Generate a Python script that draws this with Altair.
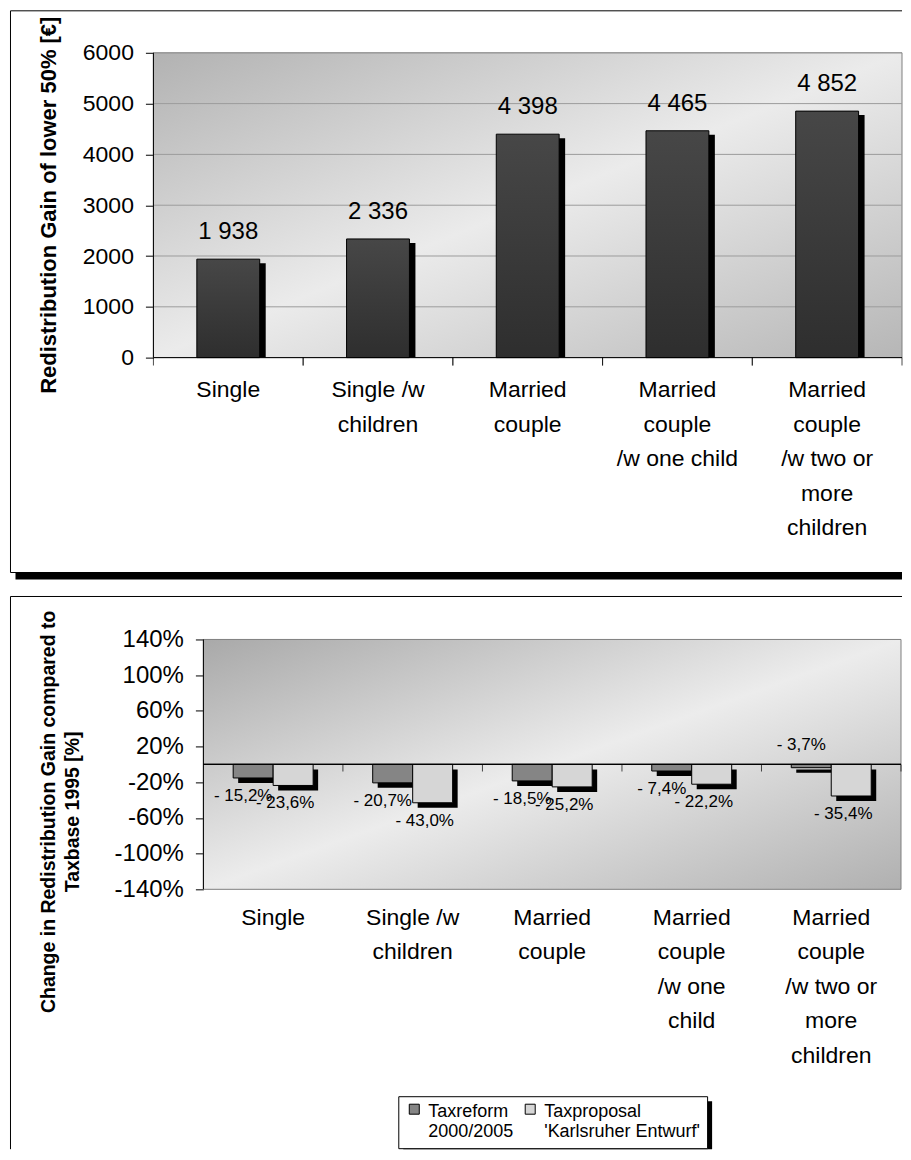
import altair as alt
import pandas as pd

FONT = "Liberation Sans"

# ---------------- data ----------------
cats_top = ["Single", "Single /w|children", "Married|couple",
            "Married|couple|/w one child", "Married|couple|/w two or|more|children"]
gain = [1938, 2336, 4398, 4465, 4852]
y_ticks_top = [0, 1000, 2000, 3000, 4000, 5000, 6000]

cats_bottom = ["Single", "Single /w|children", "Married|couple",
               "Married|couple|/w one|child", "Married|couple|/w two or|more|children"]
series = ["Taxreform|2000/2005", "Taxproposal|'Karlsruher Entwurf'"]
taxreform = [-15.2, -20.7, -18.5, -7.4, -3.7]
taxproposal = [-23.6, -43.0, -25.2, -22.2, -35.4]
y_ticks_bottom = [-140, -100, -60, -20, 20, 60, 100, 140]

# ---------------- tables ----------------
df_top = pd.DataFrame({
    "cat": cats_top,
    "value": gain,
    "label": [f"{v:,}".replace(",", " ") for v in gain],
})
df_grid = pd.DataFrame({"value": y_ticks_top[1:]})
df_sep_top = pd.DataFrame({"cat": cats_top, "value": 0})


def pct_label(v):
    return f"- {abs(v):.1f}%".replace(".", ",")


df_r = pd.DataFrame({"cat": cats_bottom, "series": series[0], "value": taxreform,
                     "label": [pct_label(v) for v in taxreform]})
df_p = pd.DataFrame({"cat": cats_bottom, "series": series[1], "value": taxproposal,
                     "label": [pct_label(v) for v in taxproposal]})
df_sep_bottom = pd.DataFrame({"cat": cats_bottom, "value": 0})
one = pd.DataFrame({"k": [0]})

# ---------------- geometry ----------------
W1, H1 = 749, 305          # top plot
X0, W2, H2 = 50, 748, 250  # bottom plot spans X0..W2 inside its view
STEP1 = W1 / len(cats_top)
STEP2 = (W2 - X0) / len(cats_bottom)
LEG_X, LEG_Y = 245, 457


def hline(x1, x2, y, color="black", w=1):
    return alt.Chart(one).mark_rule(color=color, strokeWidth=w).encode(
        x=alt.value(x1), x2=alt.value(x2), y=alt.value(y))


def vline(x, y1, y2, color="black", w=1):
    return alt.Chart(one).mark_rule(color=color, strokeWidth=w).encode(
        x=alt.value(x), y=alt.value(y1), y2=alt.value(y2))


def block(x1, x2, y1, y2):
    return alt.Chart(one).mark_rect(color="black").encode(
        x=alt.value(x1), x2=alt.value(x2), y=alt.value(y1), y2=alt.value(y2))


def background(x1, x2, h, c0, c1, c2):
    grad = alt.LinearGradient(
        gradient="linear", x1=0, y1=0, x2=1, y2=1,
        stops=[alt.GradientStop(color=c0, offset=0),
               alt.GradientStop(color=c1, offset=0.5),
               alt.GradientStop(color=c2, offset=1)])
    return alt.Chart(one).mark_rect(fill=grad, stroke="#808080", strokeWidth=1).encode(
        x=alt.value(x1), x2=alt.value(x2), y=alt.value(0), y2=alt.value(h))


label_axis_common = dict(
    title=None, domain=False, labelExpr="split(datum.label, '|')", labelAngle=0,
    labelFont=FONT, labelFontSize=23, labelColor="black", labelBaseline="top",
    labelAlign="center", labelLineHeight=34.5, ticks=False, labelLimit=400,
    labelOverlap=False, grid=False,
)

# ---------------- top chart ----------------
x_top_scale = alt.Scale(domain=cats_top, paddingInner=0.58, paddingOuter=0.29)
y_top_scale = alt.Scale(domain=[0, 6000], nice=False)

x_top_axis = alt.Axis(labelPadding=21, **label_axis_common)
y_top_axis = alt.Axis(values=y_ticks_top, format="d", grid=False, domain=False,
                      labelFont=FONT, labelFontSize=23, labelColor="black", labelPadding=12,
                      tickSize=8, tickColor="black",
                      title="Redistribution Gain of lower 50%  [€]", titleFont=FONT,
                      titleFontSize=22, titleFontWeight="bold", titleColor="black",
                      titleAngle=270, titleX=-105, titleY=152, titleAlign="center",
                      titleBaseline="middle")

X_top = alt.X("cat:N", scale=x_top_scale, axis=x_top_axis)
Y_top = alt.Y("value:Q", scale=y_top_scale, axis=y_top_axis)

bar_grad = alt.LinearGradient(
    gradient="linear", x1=0, y1=0, x2=0, y2=1,
    stops=[alt.GradientStop(color="#474747", offset=0),
           alt.GradientStop(color="#2e2e2e", offset=1)])

grid_top = alt.Chart(df_grid).mark_rule(color="#9c9c9c", strokeWidth=1).encode(y=Y_top)

shadow_top = alt.Chart(df_top).mark_bar(color="black", xOffset=6, yOffset=4, clip=True).encode(
    x=X_top, y=Y_top)

bars_top = alt.Chart(df_top).mark_bar(fill=bar_grad, stroke="black", strokeWidth=1).encode(
    x=X_top, y=Y_top)

sep_top = [
    alt.Chart(df_sep_top).mark_tick(orient="vertical", size=8, thickness=1, color="black",
                                    yOffset=4, xOffset=off).encode(x=X_top, y=Y_top)
    for off in (-STEP1 / 2, STEP1 / 2)
]

text_top = alt.Chart(df_top).mark_text(
    font=FONT, fontSize=24, baseline="alphabetic", dy=-20, color="black").encode(
    x=X_top, y=Y_top, text="label:N")

top = alt.layer(
    background(0, W1, H1, "#b2b2b2", "#ebebeb", "#b6b6b6"),
    grid_top, shadow_top, bars_top, *sep_top, text_top,
    vline(0, 0, H1), hline(0, W1, H1),
    hline(-143, 749, -42), vline(-143, -42, 520), hline(-143, 749, 520),
    block(-138, 749, 520, 527),
).properties(width=W1, height=H1)

# ---------------- bottom chart ----------------
x_bot_scale = alt.Scale(domain=cats_bottom, range=[X0, W2], paddingInner=0.42, paddingOuter=0.21)
y_bot_scale = alt.Scale(domain=[-140, 140], nice=False)

x_bot_axis = alt.Axis(labelPadding=17, **label_axis_common)
y_bot_axis = alt.Axis(
    values=y_ticks_bottom, labelExpr="datum.value + '%'", grid=False, domain=False,
    offset=-X0, labelFont=FONT, labelFontSize=24, labelColor="black", labelPadding=12,
    tickSize=8, tickColor="black",
    title=["Change in Redistribution Gain compared to", "Taxbase 1995 [%]"],
    titleFont=FONT, titleFontSize=19.5, titleFontWeight="bold", titleColor="black",
    titleLineHeight=24, titleAngle=270, titleX=-155, titleY=172, titleAlign="center",
    titleBaseline="middle")

X_bot = alt.X("cat:N", scale=x_bot_scale, axis=x_bot_axis)
Y_bot = alt.Y("value:Q", scale=y_bot_scale, axis=y_bot_axis)

color_enc = alt.Color(
    "series:N",
    scale=alt.Scale(domain=series, range=["#858585", "#d6d6d6"]),
    legend=alt.Legend(
        orient="none", legendX=LEG_X, legendY=LEG_Y, direction="horizontal", title=None,
        labelExpr="split(datum.label, '|')", labelFont=FONT, labelFontSize=18,
        labelColor="black", labelBaseline="middle", labelLimit=400,
        symbolType="M-1,-1.6H1V0.4H-1Z", symbolSize=100, symbolStrokeColor="black",
        symbolStrokeWidth=1, symbolOpacity=1, padding=7, strokeColor="black",
        fillColor="white", columnPadding=7, labelOffset=5, zindex=1))

layers = [background(X0, W2, H2, "#a9a9a9", "#ececec", "#b0b0b0")]

for d, off in [(df_r, -20), (df_p, 20)]:
    layers.append(alt.Chart(d).mark_bar(color="black", width=40, xOffset=off + 5,
                                        yOffset=5).encode(x=X_bot, y=Y_bot))

for d, off in [(df_r, -20), (df_p, 20)]:
    layers.append(alt.Chart(d).mark_bar(width=40, xOffset=off, stroke="black",
                                        strokeWidth=1).encode(x=X_bot, y=Y_bot, color=color_enc))

layers.append(alt.Chart(df_sep_bottom).mark_rule(color="black", strokeWidth=1).encode(
    y=Y_bot, x=alt.value(X0), x2=alt.value(W2)))
layers.append(alt.Chart(df_sep_bottom).mark_tick(
    orient="vertical", size=7, thickness=1, color="black", yOffset=3.5,
    xOffset=STEP2 / 2).encode(x=X_bot, y=Y_bot))

for d, dx in [(df_r, -30), (df_p, 12)]:
    layers.append(alt.Chart(d).transform_filter("datum.value <= -5").mark_text(
        font=FONT, fontSize=17, baseline="middle", dy=18, dx=dx, color="black").encode(
        x=X_bot, y=Y_bot, text="label:N"))
    layers.append(alt.Chart(d).transform_filter("datum.value > -5").mark_text(
        font=FONT, fontSize=17, baseline="middle", dy=-23, dx=dx, color="black").encode(
        x=X_bot, y=Y_bot, text="label:N"))

layers += [
    vline(X0, 0, H2),
    hline(-143, 749, -43), vline(-143, -43, 510),
    block(LEG_X + 5, LEG_X + 314, LEG_Y + 5, 510),
]

bottom = alt.layer(*layers).properties(width=W2, height=H2)

chart = alt.vconcat(top, bottom, spacing=16).properties(
    padding={"left": 1.5, "top": 1.5, "right": 0, "bottom": 0}
).resolve_scale(color="independent").configure(font=FONT).configure_view(stroke=None)

chart.save("out.html", embed_options={"renderer": "svg", "actions": False})
